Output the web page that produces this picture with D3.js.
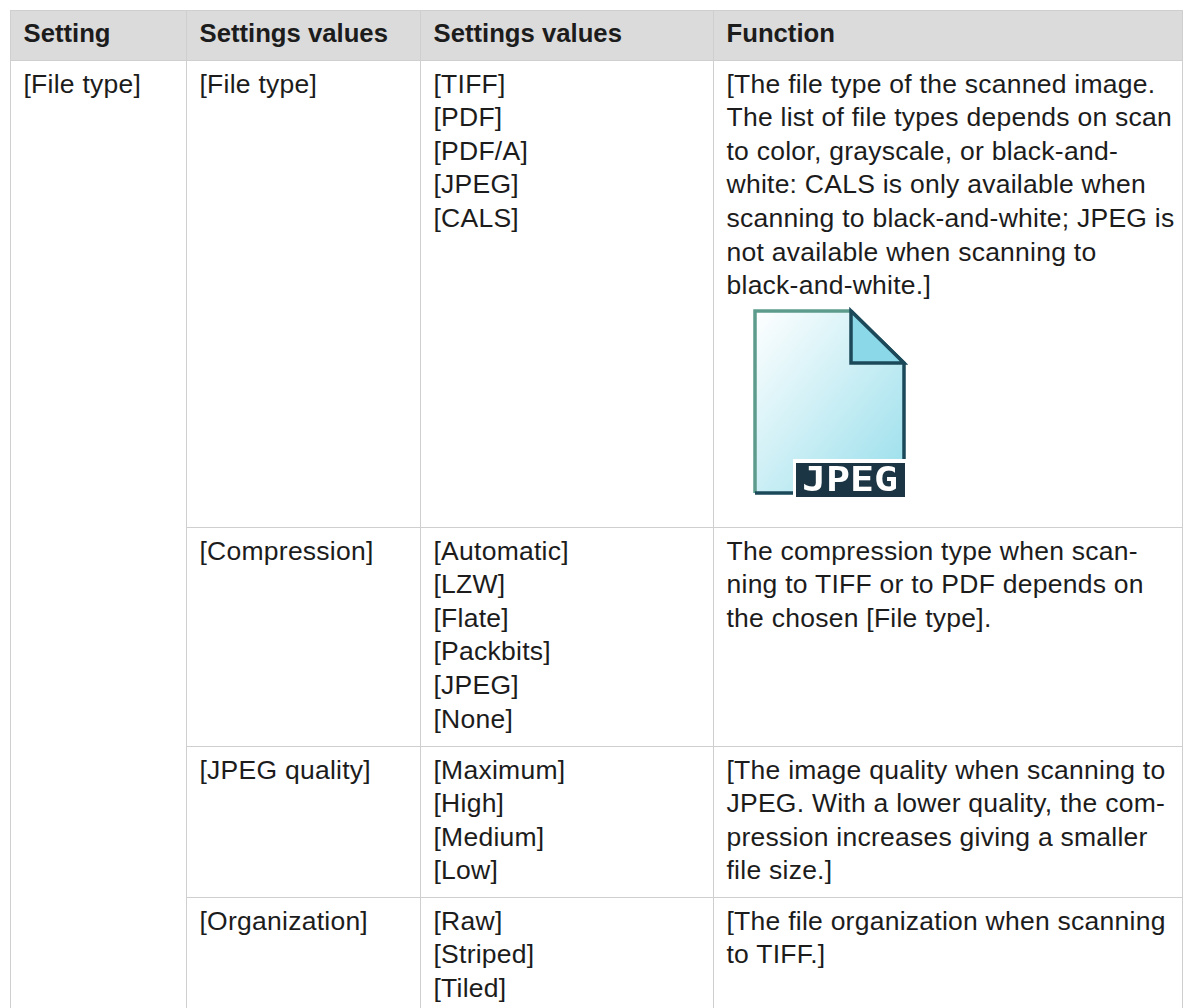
<!DOCTYPE html>
<html>
<head>
<meta charset="utf-8">
<script src="https://d3js.org/d3.v7.min.js"></script>
<style>
html, body { margin: 0; padding: 0; background: #fff; overflow: hidden; }
text { font-family: "Liberation Sans", sans-serif; font-size: 26.5px; letter-spacing: 0.25px; fill: #1c1c1c; }
.head text { font-weight: 700; font-size: 25.7px; letter-spacing: 0; }
</style>
</head>
<body>
<div class="chart"></div>
<script>
var headers = ['Setting', 'Settings values', 'Settings values', 'Function'];
var settingCol = ['[File type]'];
var rowNames = ['[File type]', '[Compression]', '[JPEG quality]', '[Organization]'];
var rowValues = [
    ['[TIFF]', '[PDF]', '[PDF/A]', '[JPEG]', '[CALS]'],
    ['[Automatic]', '[LZW]', '[Flate]', '[Packbits]', '[JPEG]', '[None]'],
    ['[Maximum]', '[High]', '[Medium]', '[Low]'],
    ['[Raw]', '[Striped]', '[Tiled]']
];
var rowFunctions = [
    ['[The file type of the scanned image.', 'The list of file types depends on scan', 'to color, grayscale, or black-and-', 'white: CALS is only available when', 'scanning to black-and-white; JPEG is', 'not available when scanning to', 'black-and-white.]'],
    ['The compression type when scan-', 'ning to TIFF or to PDF depends on', 'the chosen [File type].'],
    ['[The image quality when scanning to', 'JPEG. With a lower quality, the com-', 'pression increases giving a smaller', 'file size.]'],
    ['[The file organization when scanning', 'to TIFF.]']
];

var width = 1184, height = 1008;
var lineHeight = 33.6, pad = 13;
var border = '#cfcfcf';

var svg = d3.select('.chart').append('svg')
    .attr('width', width)
    .attr('height', height)
    .style('display', 'block');

var colX = d3.scaleOrdinal().domain([0, 1, 2, 3, 4]).range([10.5, 186.5, 420.5, 713.5, 1182.5]);
var rowY = d3.scaleOrdinal().domain([0, 1, 2, 3, 4]).range([60.5, 527.5, 746.5, 897.5, 1020]);

// header
svg.append('rect')
    .attr('x', colX(0)).attr('y', 10.5)
    .attr('width', colX(4) - colX(0)).attr('height', 50)
    .attr('fill', '#dbdbdb');

var head = svg.append('g').attr('class', 'head');
head.selectAll('text').data(headers).enter().append('text')
    .attr('x', function (d, i) { return colX(i) + pad; })
    .attr('y', 42)
    .text(function (d) { return d; });

// grid lines
var lines = svg.append('g').attr('stroke', border).attr('stroke-width', 1);
d3.range(5).forEach(function (i) {
    lines.append('line').attr('x1', colX(i)).attr('x2', colX(i)).attr('y1', 10).attr('y2', height);
});
lines.append('line').attr('x1', colX(0)).attr('x2', colX(4)).attr('y1', 10.5).attr('y2', 10.5);
lines.append('line').attr('x1', colX(0)).attr('x2', colX(4)).attr('y1', rowY(0)).attr('y2', rowY(0));
d3.range(1, 4).forEach(function (i) {
    lines.append('line').attr('x1', colX(1)).attr('x2', colX(4)).attr('y1', rowY(i)).attr('y2', rowY(i));
});

function drawLines(col, row, items) {
    svg.append('g').selectAll('text').data(items).enter().append('text')
        .attr('x', colX(col) + pad)
        .attr('y', function (d, i) { return rowY(row) + 32 + i * lineHeight; })
        .text(function (d) { return d; });
}

drawLines(0, 0, settingCol);
rowNames.forEach(function (name, i) {
    drawLines(1, i, [name]);
    drawLines(2, i, rowValues[i]);
    drawLines(3, i, rowFunctions[i]);
});

// jpeg file icon, the original is a small bitmap scaled up so it gets a slight blur
var defs = svg.append('defs');
var grad = defs.append('linearGradient').attr('id', 'page')
    .attr('x1', 0).attr('y1', 0).attr('x2', 1).attr('y2', 1);
grad.append('stop').attr('offset', 0).attr('stop-color', '#ffffff');
grad.append('stop').attr('offset', 1).attr('stop-color', '#97deeb');
defs.append('filter').attr('id', 'soft')
    .append('feGaussianBlur').attr('stdDeviation', 0.7);

var icon = svg.append('g').attr('transform', 'translate(755,311)').attr('filter', 'url(#soft)');
icon.append('path')
    .attr('d', 'M0 0H96L149 52V182H0Z')
    .attr('fill', 'url(#page)');
icon.append('path')
    .attr('d', 'M0 182V0H96')
    .attr('fill', 'none').attr('stroke', '#5d9c8c').attr('stroke-width', 3.5);
icon.append('path')
    .attr('d', 'M0 182H40M96 0L149 52V165')
    .attr('fill', 'none').attr('stroke', '#1d4a5a').attr('stroke-width', 3.5);
icon.append('path')
    .attr('d', 'M96 0L149 52H96Z')
    .attr('fill', '#8bd9e8').attr('stroke', '#1d4a5a').attr('stroke-width', 3.5);
icon.append('rect')
    .attr('x', 38).attr('y', 148).attr('width', 115).attr('height', 40)
    .attr('fill', '#fff');
icon.append('rect')
    .attr('x', 41).attr('y', 152).attr('width', 109).attr('height', 34)
    .attr('fill', '#1c3644');
icon.append('text')
    .attr('x', 95).attr('y', 180)
    .attr('text-anchor', 'middle')
    .style('font-family', 'DejaVu Sans Mono')
    .style('font-size', '33px')
    .style('font-weight', 700)
    .style('letter-spacing', 0)
    .style('fill', '#fff')
    .attr('textLength', 96)
    .attr('lengthAdjust', 'spacingAndGlyphs')
    .text('JPEG');
</script>
</body>
</html>
